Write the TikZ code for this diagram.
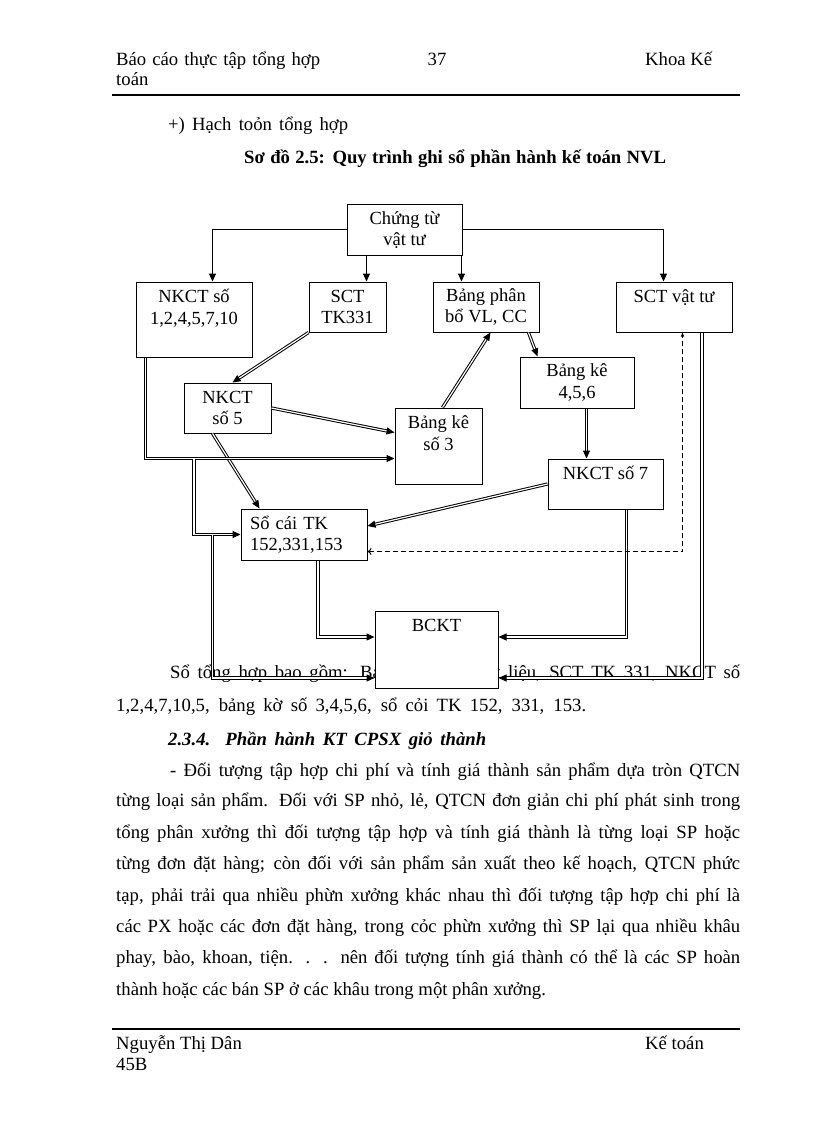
\documentclass[tikz,border=0pt]{standalone}
\usepackage{fontspec}
\setmainfont{Liberation Serif}
\usetikzlibrary{arrows.meta,calc}
\newcommand{\bodyfont}{\fontsize{18.7}{22}\selectfont}
\newcommand{\dfont}{\fontsize{18.5}{21.5}\selectfont}
\begin{document}
\begin{tikzpicture}[x=1pt,y=-1pt,
  txt/.style={inner sep=0pt, font=\bodyfont},
  box/.style={draw, line width=1pt, fill=white, align=center, font=\dfont, inner sep=2pt},
  lab/.style={inner sep=0pt, yshift=-6pt, align=center, font=\dfont, anchor=north},
  sgl/.style={draw, line width=1pt, -{Triangle[length=8pt,width=7pt]}},
  dbl/.style={draw, double, double distance=1.2pt, line width=1pt, -{Triangle[length=8pt,width=7pt]}},
  dsh/.style={draw, line width=1pt, dash pattern=on 5pt off 3pt, {To[length=4pt,width=7pt]}-{Triangle[length=4pt,width=3pt]}},
  label distance=0pt]
\useasboundingbox[fill=white] (0,0) rectangle (816,1123);

% header
\node[txt, anchor=base west] (h1t) at (116,66) {\makebox[204pt][s]{Báo cáo thực tập tổng hợp}};
\node[txt, anchor=base west] (h2t) at (116,86) {toán};
\node[txt, anchor=base] (pg) at (437,66) {37};
\node[txt, anchor=base west] (h3t) at (645,66) {Khoa Kế};
\draw[line width=2pt] (112,95) -- (740,95);

\node[txt, anchor=base west] (sub) at (168,131) {\makebox[180pt][s]{+) Hạch toỏn tổng hợp}};
\node[txt, anchor=base west, font=\bodyfont\bfseries] (title) at (244,164) {\makebox[422pt][s]{Sơ đồ 2.5: Quy trình ghi sổ phần hành kế toán NVL}};

% text under diagram
\node[txt, anchor=base west] (p1) at (170,678) {\makebox[570pt][s]{Sổ tổng hợp bao gồm: Bảng phân bổ vật liệu, SCT TK 331, NKCT số}};
\node[txt, anchor=base west] (p2) at (116,711) {\makebox[470pt][s]{1,2,4,7,10,5, bảng kờ số 3,4,5,6, sổ cỏi TK 152, 331, 153.}};
\node[txt, anchor=base west, font=\bodyfont\bfseries\itshape] (sec) at (168,745) {\makebox[318pt][s]{2.3.4. Phần hành KT CPSX giỏ thành}};
\node[txt, anchor=base west] (l1) at (170,776) {\makebox[570pt][s]{- Đối tượng tập hợp chi phí và tính giá thành sản phẩm dựa tròn QTCN}};
\node[txt, anchor=base west] (l2) at (116,806) {\makebox[624pt][s]{từng loại sản phẩm. Đối với SP nhỏ, lẻ, QTCN đơn giản chi phí phát sinh trong}};
\node[txt, anchor=base west] (l3) at (116,838) {\makebox[624pt][s]{tổng phân xưởng thì đối tượng tập hợp và tính giá thành là từng loại SP hoặc}};
\node[txt, anchor=base west] (l4) at (116,869) {\makebox[624pt][s]{từng đơn đặt hàng; còn đối với sản phẩm sản xuất theo kế hoạch, QTCN phức}};
\node[txt, anchor=base west] (l5) at (116,901) {\makebox[624pt][s]{tạp, phải trải qua nhiều phừn xưởng khác nhau thì đối tượng tập hợp chi phí là}};
\node[txt, anchor=base west] (l6) at (116,932) {\makebox[624pt][s]{các PX hoặc các đơn đặt hàng, trong cỏc phừn xưởng thì SP lại qua nhiều khâu}};
\node[txt, anchor=base west] (l7) at (116,963) {\makebox[624pt][s]{phay, bào, khoan, tiện. . . nên đối tượng tính giá thành có thể là các SP hoàn}};
\node[txt, anchor=base west] (l8) at (116,995) {thành hoặc các bán SP ở các khâu trong một phân xưởng.};

% footer
\draw[line width=2pt] (112,1029) -- (740,1029);
\node[txt, anchor=base west] (f1) at (116,1049) {Nguyễn Thị Dân};
\node[txt, anchor=base west] (f2) at (645,1049) {Kế toán};
\node[txt, anchor=base west] (f3) at (116,1070) {45B};

% boxes
\node[box, minimum width=115pt, minimum height=50pt] (ct) at (404.5,230) {Chứng từ\\vật tư};
\node[box, minimum width=116pt, minimum height=75pt,
      label={[lab]north:{\strut NKCT số\\1,2,4,5,7,10}}] (nk1) at (194,319.5) {};
\node[box, minimum width=77pt, minimum height=50pt] (sct331) at (347.5,307) {SCT\\TK331};
\node[box, minimum width=106pt, minimum height=50pt] (bpb) at (486,307) {Bảng phân\\bổ VL, CC};
\node[box, minimum width=116pt, minimum height=50pt,
      label={[lab]north:{\strut SCT vật tư}}] (sctvt) at (674,307) {};
\node[box, minimum width=114pt, minimum height=51pt] (bk456) at (577,382.5) {Bảng kê\\4,5,6};
\node[box, minimum width=87pt, minimum height=50pt] (nk5) at (227.5,408) {NKCT\\số 5};
\node[box, minimum width=87pt, minimum height=76pt,
      label={[lab]north:{\strut Bảng kê\\số 3}}] (bk3) at (438.5,446) {};
\node[box, minimum width=115pt, minimum height=50pt,
      label={[lab]north:{\strut NKCT số 7}}] (nk7) at (605.5,484) {};
\node[box, text width=108pt, inner xsep=9pt, align=left, minimum height=51pt] (sc) at (304,534.5) {Sổ cái TK\\152,331,153};
\node[box, minimum width=123pt, minimum height=77pt,
      label={[lab]north:{\strut BCKT}}] (bckt) at (436.5,649.5) {};

% single arrows from Chung tu
\draw[sgl] (ct.west) -| ([xshift=77pt]nk1.north west);
\draw[sgl] ([xshift=20pt]ct.south west) -- ([xshift=20pt]ct.south west |- sct331.north);
\draw[sgl] ([xshift=-1pt]ct.south east) -- ([xshift=-1pt]ct.south east |- bpb.north);
\draw[sgl] (ct.east) -| ([xshift=48pt]sctvt.north west);

% double arrows
\draw[dbl] (sct331.south west) -- ([xshift=49pt]nk5.north west);
\draw[dbl] (nk5.east) -- ([yshift=-25pt]bk3.north west);
\draw[dbl] ([xshift=29pt]nk5.south west) -- ([xshift=19pt]sc.north west);
\draw[dbl] ([xshift=48pt]bk3.north west) -- ([xshift=58pt]bpb.south west);
\draw[dbl] ([xshift=96pt]bpb.south west) -- ([xshift=18pt]bk456.north west);
\draw[dbl] ([xshift=67pt]bk456.south west) -- ([xshift=67pt]bk456.south west |- nk7.north);
\draw[dbl] (nk7.west) -- ([yshift=8.5pt]sc.east);

\coordinate (hb) at ([yshift=-51pt]bk3.north west);
\coordinate (j1) at (nk1.south |- hb);
\coordinate (j2) at ([xshift=-28pt]sc.west);
\draw[dbl] ([xshift=10pt]nk1.south west) |- (hb);
\draw[dbl] (j1) |- (sc.west);
\draw[dbl] (j2) |- ([yshift=-28.5pt]bckt.west);
\draw[dbl] ([xshift=14pt]sc.south) |- ([yshift=12.5pt]bckt.west);
\draw[dbl] ([xshift=21pt]nk7.south) |- ([yshift=12.5pt]bckt.east);
\draw[dbl] ([xshift=28pt]sctvt.south) |- ([yshift=-28.5pt]bckt.east);

% dashed
\draw[dsh] ([yshift=-17pt]sc.east) -| ([xshift=67pt]sctvt.south west);
\end{tikzpicture}
\end{document}
